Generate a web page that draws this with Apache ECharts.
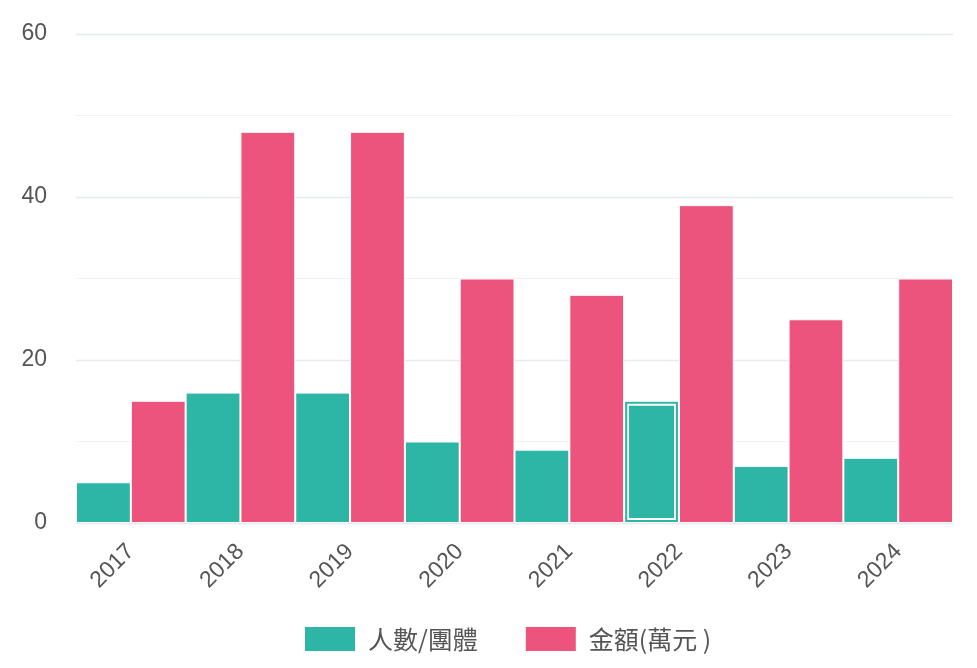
<!DOCTYPE html>
<html><head><meta charset="utf-8">
<script src="https://cdn.jsdelivr.net/npm/echarts@6/dist/echarts.min.js"></script>
<style>html,body{margin:0;padding:0;background:#fff}#c{width:977px;height:668px}</style>
</head><body><div id="c"></div>
<script>
const years = ['2017','2018','2019','2020','2021','2022','2023','2024'];
const people = [5,16,16,10,9,15,7,8];
const amount = [15,48,48,30,28,39,25,30];
const seriesNames = ['人數/團體','金額(萬元 )'];
const focusIndex = 5;

const chart = echarts.init(document.getElementById('c'));
chart.setOption({
  animation:false,
  textStyle:{fontFamily:'Liberation Sans, Noto Sans CJK TC, sans-serif'},
  color:['#2db5a5','#ec547d'],
  grid:{left:76,right:24,top:34,bottom:145},
  legend:{data:seriesNames,top:625,left:303,itemWidth:52,itemHeight:26,itemGap:46,
    icon:'rect',padding:0,
    textStyle:{fontSize:25,lineHeight:26,color:'#555',fontFamily:'Noto Sans CJK TC, sans-serif',padding:[0,0,0,7]}},
  xAxis:{type:'category',data:years,axisLine:{show:false},axisTick:{show:false},
    axisLabel:{rotate:45,fontSize:23,color:'#555',margin:25}},
  yAxis:{type:'value',min:0,max:60,interval:20,
    axisLabel:{fontSize:23,color:'#555',margin:29},
    splitLine:{lineStyle:{color:'#e6e9ee',width:1.3}},
    minorTick:{show:false,splitNumber:2},
    minorSplitLine:{show:true,lineStyle:{color:'#f2f2f2',width:1}}},
  series:[
    {name:seriesNames[0],type:'bar',data:people,barGap:'0%',barCategoryGap:'0%',
      itemStyle:{borderColor:'#fff',borderWidth:1}},
    {name:seriesNames[1],type:'bar',data:amount,barGap:'0%',barCategoryGap:'0%',
      itemStyle:{borderColor:'#fff',borderWidth:1}},
    {name:'focus',type:'custom',z:5,silent:true,data:[[focusIndex,people[focusIndex]]],
      renderItem:function(params,api){
        const base=api.coord([api.value(0),0]);
        const top=api.coord([api.value(0),api.value(1)]);
        const band=api.size([1,0])[0];
        const x0=base[0]-band/2, x1=base[0];
        const ins=4;
        return {type:'rect',shape:{x:x0+ins,y:top[1]+ins,width:(x1-x0)-2*ins,height:(base[1]-top[1])-2*ins},
          style:{fill:'none',stroke:'#fff',lineWidth:1.8}};
      }}
  ]
});
</script></body></html>
